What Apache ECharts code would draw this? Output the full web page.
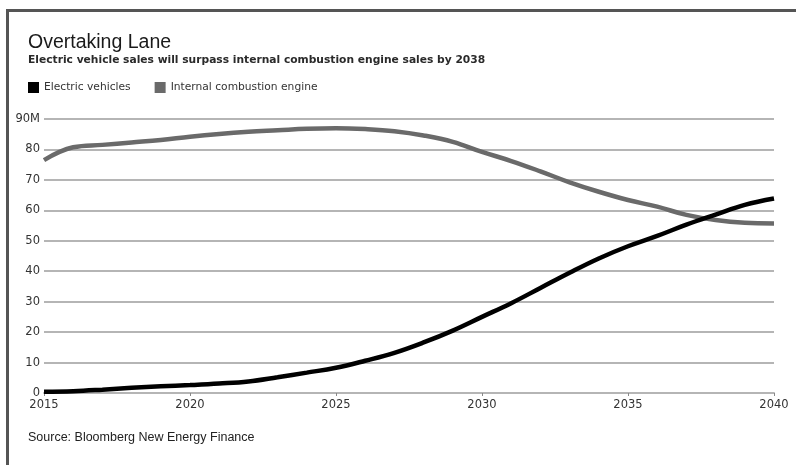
<!DOCTYPE html>
<html>
<head>
<meta charset="utf-8">
<script src="https://cdn.jsdelivr.net/npm/echarts@6/dist/echarts.min.js"></script>
<style>
html,body{margin:0;padding:0;background:#fff;}
#chart{width:796px;height:465px;}
</style>
</head>
<body>
<div id="chart"></div>
<script>
const years = [2015,2016,2017,2018,2019,2020,2021,2022,2023,2024,2025,2026,2027,2028,2029,2030,2031,2032,2033,2034,2035,2036,2037,2038,2039,2040];
const electricVehicles = [0.4,0.6,1.1,1.7,2.2,2.6,3.1,3.8,5.2,6.7,8.3,10.6,13.2,16.6,20.5,25.0,29.5,34.5,39.5,44.2,48.2,51.6,55.3,58.6,61.8,63.9];
const internalCombustion = [76.5,80.7,81.5,82.3,83.1,84.2,85.1,85.8,86.3,86.8,87.0,86.7,86.0,84.6,82.5,79.2,76.2,72.8,69.2,66.1,63.4,61.2,58.5,56.8,55.9,55.7];
const seriesNames = ['Electric vehicles','Internal combustion engine'];
const yTicks = [0,10,20,30,40,50,60,70,80,90];

const chart = echarts.init(document.getElementById('chart'));
const font = 'Liberation Sans, Arial, sans-serif';
const wide = '"DejaVu Sans", Verdana, sans-serif';
chart.setOption({
  backgroundColor:'#fff',
  animation:false,
  title:{
    text:'Overtaking Lane',
    subtext:'Electric vehicle sales will surpass internal combustion engine sales by 2038',
    left:23, top:28, itemGap:2,
    textStyle:{fontFamily:font,fontSize:19.5,fontWeight:'normal',color:'#1a1a1a'},
    subtextStyle:{fontFamily:wide,fontSize:10.7,fontWeight:'bold',color:'#2a2a2a'}
  },
  legend:{
    left:23, top:77, itemWidth:11, itemHeight:11, itemGap:24,
    icon:'rect',
    textStyle:{fontFamily:wide,fontSize:10.7,color:'#333'},
    data:seriesNames
  },
  grid:{left:44,right:22,top:119,bottom:72},
  xAxis:{
    type:'value', min:2015, max:2040, interval:5,
    axisLine:{show:true,lineStyle:{color:'#b5b5b5',width:2}},
    axisTick:{show:true,length:3,lineStyle:{color:'#888'}},
    splitLine:{show:false},
    axisLabel:{formatter:v=>String(v),fontFamily:wide,fontSize:11.5,color:'#333',margin:6}
  },
  yAxis:{
    type:'value', min:0, max:90, interval:10,
    axisLine:{show:false}, axisTick:{show:false},
    splitLine:{lineStyle:{color:'#b5b5b5',width:2}},
    axisLabel:{formatter:v=> v===90?'90M':String(v),fontFamily:wide,fontSize:11.5,color:'#333',margin:4}
  },
  series:[
    {name:seriesNames[0],type:'line',smooth:0.4,showSymbol:false,z:3,
     itemStyle:{color:'#000'},lineStyle:{color:'#000',width:4.5},
     data:years.map((y,i)=>[y,electricVehicles[i]])},
    {name:seriesNames[1],type:'line',smooth:0.4,showSymbol:false,z:2,
     itemStyle:{color:'#6a6a6a'},lineStyle:{color:'#6a6a6a',width:4.5},
     data:years.map((y,i)=>[y,internalCombustion[i]])}
  ],
  graphic:[
    {type:'rect',shape:{x:6,y:9,width:800,height:3},style:{fill:'#555'}},
    {type:'rect',shape:{x:6,y:9,width:3,height:470},style:{fill:'#555'}},
    {type:'text',left:28,top:431,style:{text:'Source: Bloomberg New Energy Finance',font:'12.5px "Liberation Sans Narrow", Arial Narrow, sans-serif',fill:'#222'}}
  ]
});
</script>
</body>
</html>
